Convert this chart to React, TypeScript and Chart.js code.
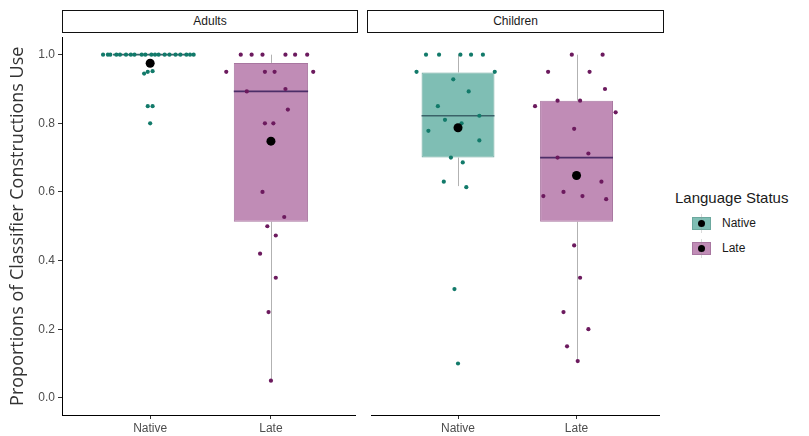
import React, { useEffect, useRef } from "react";
import { Chart, registerables } from "chart.js";
Chart.register(...registerables);

const groups = ["Native", "Late"];
const facets = ["Adults", "Children"];
const yTicks = [0, 0.2, 0.4, 0.6, 0.8, 1.0];

// Adults - Native
const adultsNativeValues = [1, 1, 1, 1, 1, 1, 1, 1, 1, 1, 1, 1, 1, 1, 1, 1, 1, 1, 1, 1, 0.945, 0.95, 0.952, 0.85, 0.85, 0.8];
const adultsNativeJitter = [-0.39, -0.35, -0.33, -0.28, -0.25, -0.2, -0.16, -0.13, -0.07, -0.04, 0.01, 0.04, 0.07, 0.12, 0.16, 0.21, 0.25, 0.3, 0.33, 0.36, -0.05, -0.02, 0.02, -0.02, 0.02, 0];
// Adults - Late
const adultsLateValues = [1, 1, 1, 1, 1, 1, 0.95, 0.95, 0.95, 0.95, 0.893, 0.9, 0.84, 0.8, 0.8, 0.6, 0.527, 0.5, 0.473, 0.42, 0.35, 0.25, 0.05];
const adultsLateJitter = [-0.25, -0.16, -0.07, 0.12, 0.2, 0.3, -0.37, -0.05, 0.03, 0.35, -0.2, 0.12, 0.14, -0.05, 0.02, -0.07, 0.11, -0.03, 0.04, -0.09, 0.04, -0.02, 0];
// Children - Native
const childrenNativeValues = [1, 1, 1, 1, 1, 0.95, 0.95, 0.928, 0.893, 0.85, 0.822, 0.81, 0.8, 0.778, 0.75, 0.7, 0.686, 0.63, 0.614, 0.317, 0.1];
const childrenNativeJitter = [-0.27, -0.16, 0.02, 0.11, 0.21, -0.35, 0.31, -0.04, 0.09, -0.17, 0.18, -0.11, 0.03, -0.25, 0.18, -0.06, 0.04, -0.12, 0.07, -0.03, 0];
// Children - Late
const childrenLateValues = [1, 1, 0.95, 0.95, 0.9, 0.866, 0.866, 0.85, 0.832, 0.784, 0.712, 0.7, 0.63, 0.6, 0.588, 0.588, 0.579, 0.444, 0.35, 0.25, 0.2, 0.15, 0.107];
const childrenLateJitter = [-0.04, 0.22, -0.24, 0.11, 0.24, -0.16, 0.03, -0.35, 0.33, -0.02, 0.1, -0.16, 0.21, -0.11, -0.28, 0.05, 0.25, -0.02, 0.03, -0.11, 0.1, -0.08, 0.01];

// box stats: [lower whisker, Q1, median, Q3, upper whisker]
const adultsNativeBox = [1, 1, 1, 1, 1];
const adultsLateBox = [0.05, 0.513, 0.893, 0.976, 1.0];
const childrenNativeBox = [0.617, 0.7, 0.822, 0.948, 1.0];
const childrenLateBox = [0.107, 0.513, 0.7, 0.866, 1.0];

// group means
const adultsMeans = [0.975, 0.748];
const childrenMeans = [0.787, 0.648];

const tealDot = "rgb(18,122,106)";
const purpleDot = "rgb(108,26,94)";
const tealFill = "rgb(127,190,180)";
const purpleFill = "rgb(192,140,182)";
const tealBorder = "rgb(108,168,158)";
const purpleBorder = "rgb(168,118,160)";
const tealMedian = "rgb(58,98,104)";
const purpleMedian = "rgb(76,46,104)";
const whiskerColor = "rgb(178,178,178)";
const axisFont = "'Liberation Sans', Arial, sans-serif";

const boxPlugin = {
  id: "boxWhisker",
  beforeDatasetsDraw(chart: any, _args: any, opts: any) {
    const { ctx } = chart;
    const x = chart.scales.x;
    const y = chart.scales.y;
    ctx.save();
    ctx.strokeStyle = opts.whiskerColor;
    ctx.lineWidth = 1;
    opts.boxes.forEach((b: number[], i: number) => {
      const px = Math.round(x.getPixelForValue(i + 1)) + 0.5;
      ctx.beginPath();
      ctx.moveTo(px, y.getPixelForValue(b[3]));
      ctx.lineTo(px, y.getPixelForValue(b[4]));
      ctx.moveTo(px, y.getPixelForValue(b[1]));
      ctx.lineTo(px, y.getPixelForValue(b[0]));
      ctx.stroke();
    });
    ctx.restore();
  },
  afterDatasetDraw(chart: any, args: any, opts: any) {
    if (args.index !== 0) return;
    const { ctx } = chart;
    const y = chart.scales.y;
    const meta = chart.getDatasetMeta(0);
    ctx.save();
    ctx.lineWidth = 1.6;
    meta.data.forEach((el: any, i: number) => {
      const b = opts.boxes[i];
      const py = y.getPixelForValue(b[2]);
      ctx.strokeStyle = opts.medianColors[i];
      ctx.beginPath();
      ctx.moveTo(el.x - el.width / 2, py);
      ctx.lineTo(el.x + el.width / 2, py);
      ctx.stroke();
    });
    ctx.restore();
  },
};

function makeConfig(
  nativeValues: number[],
  nativeJitter: number[],
  lateValues: number[],
  lateJitter: number[],
  boxes: number[][],
  means: number[],
  showY: boolean
): any {
  const gridTicks = {
    display: true,
    drawOnChartArea: false,
    drawTicks: true,
    tickLength: 4,
    color: "#333",
    offset: false,
  };
  return {
    type: "bar",
    data: {
      datasets: [
        {
          type: "bar",
          data: boxes.map((b, i) => ({ x: i + 1, y: [b[1], b[3]] })),
          backgroundColor: [tealFill, purpleFill],
          borderColor: [tealBorder, purpleBorder],
          borderWidth: 1,
          borderSkipped: false,
          barPercentage: 0.615,
          categoryPercentage: 1,
          order: 3,
        },
        {
          type: "scatter",
          data: nativeValues.map((v, i) => ({ x: 1 + nativeJitter[i], y: v })),
          backgroundColor: tealDot,
          pointRadius: 2.1,
          pointBorderWidth: 0,
          showLine: false,
          order: 2,
        },
        {
          type: "scatter",
          data: lateValues.map((v, i) => ({ x: 2 + lateJitter[i], y: v })),
          backgroundColor: purpleDot,
          pointRadius: 2.1,
          pointBorderWidth: 0,
          showLine: false,
          order: 2,
        },
        {
          type: "scatter",
          data: means.map((m, i) => ({ x: i + 1, y: m })),
          backgroundColor: "#000",
          pointRadius: 4.5,
          pointBorderWidth: 0,
          showLine: false,
          order: 1,
        },
      ],
    },
    options: {
      animation: false,
      responsive: false,
      maintainAspectRatio: false,
      layout: { padding: { left: 0, right: showY ? 2 : 0, top: 0, bottom: 0 } },
      plugins: {
        legend: { display: false },
        tooltip: { enabled: false },
        boxWhisker: {
          boxes,
          medianColors: [tealMedian, purpleMedian],
          whiskerColor,
        },
      },
      scales: {
        x: {
          type: "linear",
          min: 0.27,
          max: 2.7,
          offset: false,
          afterBuildTicks: (s: any) => {
            s.ticks = [1, 2].map((v) => ({ value: v }));
          },
          afterFit: (s: any) => {
            s.height = 21;
            s.paddingLeft = 0;
            s.paddingRight = 0;
          },
          ticks: {
            callback: (v: number) => groups[Math.round(v) - 1],
            color: "#4d4d4d",
            font: { size: 12, family: axisFont },
            padding: 2,
            maxRotation: 0,
            autoSkip: false,
          },
          grid: gridTicks,
          border: { display: true, color: "#000", width: 1 },
        },
        y: {
          type: "linear",
          min: -0.05,
          max: 1.05,
          display: true,
          afterBuildTicks: (s: any) => {
            s.ticks = yTicks.map((v) => ({ value: v }));
          },
          afterFit: (s: any) => {
            s.width = showY ? 62 : 0;
            s.paddingTop = 0;
            s.paddingBottom = 0;
          },
          ticks: {
            display: showY,
            callback: (v: number) => v.toFixed(1),
            color: "#4d4d4d",
            font: { size: 12, family: axisFont },
            padding: 3,
          },
          grid: showY ? gridTicks : { display: false, drawTicks: false },
          border: { display: showY, color: showY ? "#000" : "rgba(0,0,0,0)", width: showY ? 1 : 0 },
          title: {
            display: showY,
            text: "Proportions of Classifier Constructions Use",
            color: "#333",
            font: { size: 18, family: "'Open Sans', sans-serif" },
            padding: { top: 7, bottom: 0 },
          },
        },
      },
    },
    plugins: [boxPlugin],
  };
}

function Panel(props: { left: number; width: number; config: () => any }) {
  const ref = useRef<HTMLCanvasElement>(null);
  useEffect(() => {
    const chart = new Chart(ref.current as HTMLCanvasElement, props.config());
    return () => chart.destroy();
  }, []);
  return (
    <canvas
      ref={ref}
      width={props.width}
      height={403}
      style={{ position: "absolute", left: props.left, top: 33, width: props.width, height: 403 }}
    />
  );
}

function Strip(props: { left: number; width: number; text: string }) {
  return (
    <div
      style={{
        position: "absolute",
        left: props.left,
        top: 10,
        width: props.width,
        height: 23,
        boxSizing: "border-box",
        border: "1px solid #111",
        background: "#fff",
        textAlign: "center",
        font: `12px ${axisFont}`,
        lineHeight: "21px",
        color: "#1a1a1a",
      }}
    >
      {props.text}
    </div>
  );
}

function LegendKey(props: { top: number; fill: string; border: string; label: string }) {
  return (
    <>
      <div
        style={{
          position: "absolute",
          left: 692,
          top: props.top,
          width: 19,
          height: 13,
          boxSizing: "border-box",
          background: props.fill,
          border: `1px solid ${props.border}`,
        }}
      />
      <div
        style={{
          position: "absolute",
          left: 701,
          top: props.top - 3,
          width: 1,
          height: 19,
          background: "rgba(150,150,150,0.35)",
        }}
      />
      <div
        style={{
          position: "absolute",
          left: 698,
          top: props.top + 3,
          width: 7,
          height: 7,
          borderRadius: "50%",
          background: "#000",
        }}
      />
      <div
        style={{
          position: "absolute",
          left: 722,
          top: props.top - 1,
          font: `12px ${axisFont}`,
          lineHeight: "15px",
          color: "#1a1a1a",
          whiteSpace: "nowrap",
        }}
      >
        {props.label}
      </div>
    </>
  );
}

export default function App() {
  useEffect(() => {
    document.body.style.margin = "0";
  }, []);
  return (
    <div style={{ position: "relative", width: 809, height: 436, overflow: "hidden", background: "#fff" }}>
      <Panel
        left={0}
        width={360}
        config={() =>
          makeConfig(adultsNativeValues, adultsNativeJitter, adultsLateValues, adultsLateJitter, [adultsNativeBox, adultsLateBox], adultsMeans, true)
        }
      />
      <Panel
        left={367}
        width={297}
        config={() =>
          makeConfig(childrenNativeValues, childrenNativeJitter, childrenLateValues, childrenLateJitter, [childrenNativeBox, childrenLateBox], childrenMeans, false)
        }
      />
      <Strip left={62} width={296} text={facets[0]} />
      <Strip left={367} width={297} text={facets[1]} />
      <div
        style={{
          position: "absolute",
          left: 675,
          top: 189,
          font: `15px ${axisFont}`,
          lineHeight: "18px",
          color: "#1a1a1a",
          whiteSpace: "nowrap",
        }}
      >
        Language Status
      </div>
      <LegendKey top={217} fill={tealFill} border={tealBorder} label={groups[0]} />
      <LegendKey top={242} fill={purpleFill} border={purpleBorder} label={groups[1]} />
    </div>
  );
}
